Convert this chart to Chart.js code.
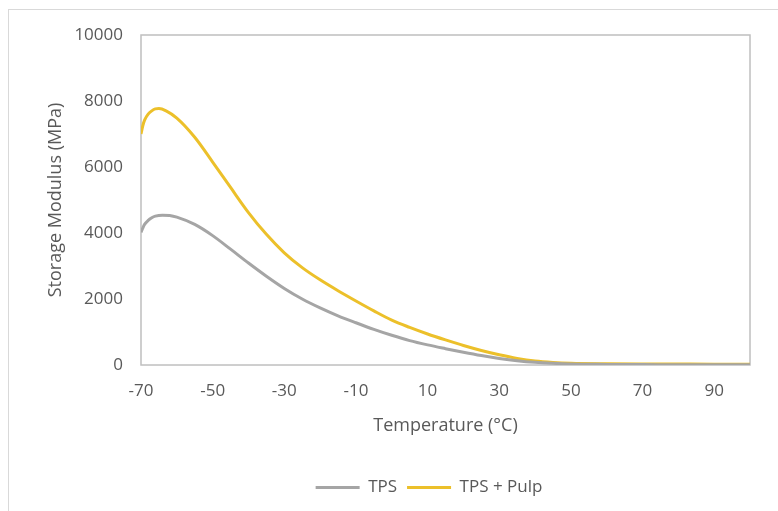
<!DOCTYPE html>
<html>
<head>
<meta charset="utf-8">
<script src="https://cdn.jsdelivr.net/npm/chart.js@4/dist/chart.umd.min.js"></script>
<style>
  html, body { margin: 0; padding: 0; background: #fff; }
  #wrap { position: relative; width: 778px; height: 511px; }
  #frame { position: absolute; left: 8px; top: 9px; right: 0; bottom: 0;
           border-top: 1px solid #d9d9d9; border-left: 1px solid #d9d9d9; pointer-events: none; }
</style>
</head>
<body>
<div id="wrap">
  <canvas id="dmaChart" width="778" height="511"></canvas>
  <div id="frame"></div>
</div>
<script>
// temperatures (°C) where the curves were read
var tpsTemp = [-70, -69.5, -69, -68, -67, -66, -64, -62, -60, -55, -50, -45, -40, -35, -30, -25, -20, -15, -10, -5, 0, 5, 10, 15, 20, 25, 30, 35, 40, 45, 50, 60, 70, 80, 90, 100];
var tpsModulus = [4020, 4150, 4260, 4380, 4460, 4510, 4540, 4530, 4480, 4260, 3920, 3510, 3090, 2690, 2320, 2000, 1730, 1490, 1280, 1080, 900, 740, 610, 495, 385, 285, 200, 130, 80, 50, 30, 18, 12, 10, 8, 8];

var pulpTemp = [-70, -69.5, -69, -68, -67, -66, -65, -63, -60, -55, -50, -45, -40, -35, -30, -25, -20, -15, -10, -5, 0, 5, 10, 15, 20, 25, 30, 35, 40, 45, 50, 60, 70, 80, 90, 100];
var pulpModulus = [7000, 7250, 7420, 7600, 7700, 7760, 7770, 7700, 7480, 6900, 6150, 5380, 4620, 3960, 3400, 2950, 2580, 2250, 1940, 1640, 1360, 1140, 940, 760, 590, 440, 310, 200, 120, 75, 50, 35, 30, 28, 26, 25];

var xTicks = [-70, -50, -30, -10, 10, 30, 50, 70, 90];

function toPoints(xs, ys) {
    return xs.map(function (x, i) { return { x: x, y: ys[i] }; });
}

var textColor = '#595959';
Chart.defaults.font.family = "'Open Sans', sans-serif";
Chart.defaults.color = textColor;

// box around the plot area
var plotBox = {
    id: 'plotBox',
    beforeDatasetsDraw: function (chart) {
        var a = chart.chartArea, c = chart.ctx;
        c.save();
        c.strokeStyle = '#bfbfbf';
        c.lineWidth = 1.5;
        c.strokeRect(a.left, a.top, a.right - a.left, a.bottom - a.top);
        c.restore();
    }
};

// the legend sits centred under the plot, not under the whole canvas
var legendShift = {
    id: 'legendShift',
    afterLayout: function (chart) {
        chart.legend.left += 54;
        chart.legend.right += 54;
    }
};

var ctx = document.getElementById('dmaChart').getContext('2d');
var dmaChart = new Chart(ctx, {
    type: 'line',
    data: {
        datasets: [{
            label: 'TPS',
            data: toPoints(tpsTemp, tpsModulus),
            borderColor: '#a5a5a5',
            backgroundColor: '#a5a5a5',
            borderWidth: 3,
            pointRadius: 0,
            cubicInterpolationMode: 'monotone'
        }, {
            label: 'TPS + Pulp',
            data: toPoints(pulpTemp, pulpModulus),
            borderColor: '#ecc02a',
            backgroundColor: '#ecc02a',
            borderWidth: 3,
            pointRadius: 0,
            cubicInterpolationMode: 'monotone'
        }]
    },
    plugins: [plotBox, legendShift],
    options: {
        responsive: false,
        animation: false,
        layout: { padding: { top: 35, right: 28, bottom: 5, left: 0 } },
        plugins: {
            tooltip: { enabled: false },
            legend: {
                position: 'bottom',
                labels: {
                    boxWidth: 44,
                    boxHeight: 3,
                    padding: 10,
                    font: { size: 17 },
                    color: textColor,
                    generateLabels: function (chart) {
                        var items = Chart.defaults.plugins.legend.labels.generateLabels(chart);
                        items.forEach(function (it) { it.lineWidth = 0; it.fillStyle = it.strokeStyle; });
                        return items;
                    }
                }
            }
        },
        scales: {
            x: {
                type: 'linear',
                min: -70,
                max: 100,
                grid: { display: false, drawTicks: false },
                border: { display: false },
                afterBuildTicks: function (scale) {
                    scale.ticks = xTicks.map(function (v) { return { value: v }; });
                },
                afterFit: function (scale) { scale.height = 104; },
                ticks: { padding: 16, font: { size: 17 }, color: textColor },
                title: {
                    display: true,
                    text: 'Temperature (°C)',
                    font: { size: 18 },
                    color: textColor,
                    padding: { top: 0, bottom: 32 }
                }
            },
            y: {
                min: 0,
                max: 10000,
                grid: { display: false, drawTicks: false },
                border: { display: false },
                afterFit: function (scale) { scale.width = 141; },
                ticks: {
                    stepSize: 2000,
                    padding: 18,
                    font: { size: 17 },
                    color: textColor,
                    callback: function (v) { return String(v); }
                },
                title: {
                    display: true,
                    text: 'Storage Modulus (MPa)',
                    font: { size: 18 },
                    color: textColor,
                    padding: { top: 45, bottom: 0 }
                }
            }
        }
    }
});
</script>
</body>
</html>
